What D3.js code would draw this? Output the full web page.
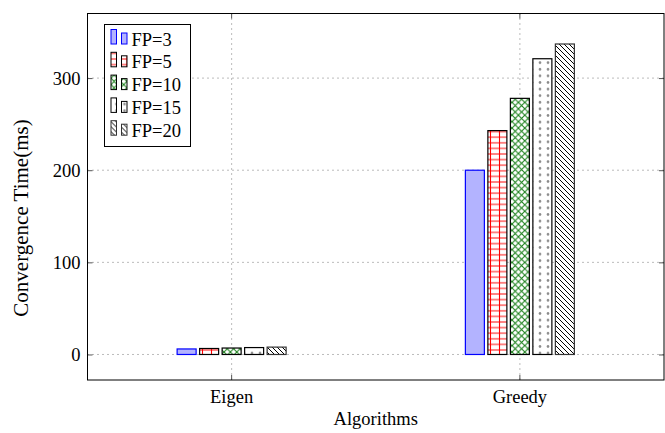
<!DOCTYPE html>
<html>
<head>
<meta charset="utf-8">
<script src="https://cdn.jsdelivr.net/npm/d3@7"></script>
<style>
  body { margin: 0; background: #fff; }
  text { font-family: "Liberation Serif", "Times New Roman", serif; }
</style>
</head>
<body>
<div id="chart"></div>
<script>
// data
let algorithms = ["Eigen", "Greedy"];
let series = ["FP=3", "FP=5", "FP=10", "FP=15", "FP=20"];
let eigenValues = [6, 6.5, 7, 7.5, 8];
let greedyValues = [200, 243, 278, 321, 337];
let yTicks = [0, 100, 200, 300];

let width = 665;
let height = 433;
let fontSize = 18.5;

let svg = d3.select("#chart")
    .append("svg")
    .attr("width", width)
    .attr("height", height);

let defs = svg.append("defs");

// patterns, one per series (pgfplots style hatch fills)
let pGrid = defs.append("pattern")
    .attr("id", "pat-grid")
    .attr("patternUnits", "userSpaceOnUse")
    .attr("width", 9).attr("height", 5.6);
pGrid.append("rect").attr("width", 9).attr("height", 5.6).attr("fill", "white");
pGrid.append("path").attr("d", "M4.5,0V5.6M0,2.8H9")
    .attr("stroke", "red").attr("stroke-width", 1.1);

let pCross = defs.append("pattern")
    .attr("id", "pat-cross")
    .attr("patternUnits", "userSpaceOnUse")
    .attr("width", 6.4).attr("height", 6.4);
pCross.append("rect").attr("width", 6.4).attr("height", 6.4).attr("fill", "white");
pCross.append("path").attr("d", "M0,0L6.4,6.4M6.4,0L0,6.4")
    .attr("stroke", "#1a801a").attr("stroke-width", 1.1);

let pDots = defs.append("pattern")
    .attr("id", "pat-dots")
    .attr("patternUnits", "userSpaceOnUse")
    .attr("width", 8).attr("height", 6.6);
pDots.append("rect").attr("width", 8).attr("height", 6.6).attr("fill", "white");
pDots.append("circle").attr("cx", 4).attr("cy", 3.3).attr("r", 1.3).attr("fill", "#8a8a8a");

let pLines = defs.append("pattern")
    .attr("id", "pat-nwlines")
    .attr("patternUnits", "userSpaceOnUse")
    .attr("width", 5).attr("height", 5);
pLines.append("rect").attr("width", 5).attr("height", 5).attr("fill", "white");
pLines.append("path").attr("d", "M-1,-1L6,6M-1,4L1,6M4,-1L6,1")
    .attr("stroke", "black").attr("stroke-width", 1);

let fills = ["#b3b3ff", "url(#pat-grid)", "url(#pat-cross)", "url(#pat-dots)", "url(#pat-nwlines)"];
let strokes = ["blue", "black", "black", "black", "#333"];

// plot area
let plotLeft = 87.5, plotRight = 664, plotTop = 13.5, plotBottom = 380;

let x = d3.scaleBand().domain(algorithms).range([plotLeft, plotRight]);
let xSub = d3.scaleBand().domain(series)
    .range([-56.25, 56.25])
    .paddingInner(3.5 / 22.5)
    .paddingOuter(3.5 / 45);
let y = d3.scaleLinear().domain([-27.7, 370.1]).range([plotBottom, plotTop]);

// dotted grid
svg.append("g").selectAll("line.gy")
    .data(yTicks)
    .enter().append("line")
    .attr("x1", plotLeft).attr("x2", plotRight)
    .attr("y1", d => y(d)).attr("y2", d => y(d))
    .attr("stroke", "#777").attr("stroke-width", 1)
    .attr("stroke-dasharray", "1,4");

svg.append("g").selectAll("line.gx")
    .data(algorithms)
    .enter().append("line")
    .attr("x1", d => x(d) + x.bandwidth() / 2).attr("x2", d => x(d) + x.bandwidth() / 2)
    .attr("y1", plotTop).attr("y2", plotBottom)
    .attr("stroke", "#777").attr("stroke-width", 1)
    .attr("stroke-dasharray", "1,4");

// bars
let barData = [];
algorithms.forEach((alg, ai) => {
    let vals = ai == 0 ? eigenValues : greedyValues;
    series.forEach((s, si) => {
        barData.push({alg: alg, s: s, si: si, v: vals[si]});
    });
});

svg.append("g").selectAll("rect.bar")
    .data(barData)
    .enter().append("rect")
    .attr("class", "bar")
    .attr("x", d => x(d.alg) + x.bandwidth() / 2 + xSub(d.s))
    .attr("width", xSub.bandwidth())
    .attr("y", d => y(d.v))
    .attr("height", d => y(0) - y(d.v))
    .attr("fill", d => fills[d.si])
    .attr("stroke", d => strokes[d.si])
    .attr("stroke-width", 1.2);

// axes (ticks inside, mirrored)
let yAxisL = d3.axisLeft(y).tickValues(yTicks).tickSize(-5).tickPadding(7);
let gy = svg.append("g").attr("transform", "translate(" + plotLeft + ",0)").call(yAxisL);
gy.select(".domain").remove();
gy.selectAll("text").attr("font-size", fontSize).attr("font-family", "Liberation Serif").attr("fill", "black");
gy.selectAll("line").attr("stroke", "#555");

let yAxisR = d3.axisRight(y).tickValues(yTicks).tickSize(-5).tickFormat("");
let gyr = svg.append("g").attr("transform", "translate(" + plotRight + ",0)").call(yAxisR);
gyr.select(".domain").remove();
gyr.selectAll("line").attr("stroke", "#555");

let xAxisB = d3.axisBottom(x).tickSize(-5).tickPadding(10);
let gx = svg.append("g").attr("transform", "translate(0," + plotBottom + ")").call(xAxisB);
gx.select(".domain").remove();
gx.selectAll("text").attr("font-size", fontSize).attr("font-family", "Liberation Serif").attr("fill", "black");
gx.selectAll("line").attr("stroke", "#555");

let xAxisT = d3.axisTop(x).tickSize(-5).tickFormat("");
let gxt = svg.append("g").attr("transform", "translate(0," + plotTop + ")").call(xAxisT);
gxt.select(".domain").remove();
gxt.selectAll("line").attr("stroke", "#555");

// frame
svg.append("rect")
    .attr("x", plotLeft).attr("y", plotTop)
    .attr("width", plotRight - plotLeft).attr("height", plotBottom - plotTop)
    .attr("fill", "none").attr("stroke", "black").attr("stroke-width", 1);

// axis labels
svg.append("text")
    .attr("x", (plotLeft + plotRight) / 2).attr("y", 425)
    .attr("text-anchor", "middle")
    .attr("font-size", fontSize)
    .text("Algorithms");

svg.append("text")
    .attr("transform", "translate(28," + 218 + ") rotate(-90)")
    .attr("text-anchor", "middle")
    .attr("font-size", 21)
    .text("Convergence Time(ms)");

// legend
let legend = svg.append("g").attr("transform", "translate(104.5,24.5)");
legend.append("rect")
    .attr("width", 86).attr("height", 122)
    .attr("fill", "white").attr("stroke", "black").attr("stroke-width", 1);

let rowH = 22.8;
let entries = legend.selectAll("g.entry")
    .data(series)
    .enter().append("g")
    .attr("class", "entry")
    .attr("transform", (d, i) => "translate(0," + (14.5 + i * rowH) + ")");

// legend image: a tall bar and a short bar
entries.append("rect")
    .attr("x", 6.5).attr("y", -9.5)
    .attr("width", 5.5).attr("height", 14.5)
    .attr("fill", (d, i) => fills[i]).attr("stroke", (d, i) => strokes[i]).attr("stroke-width", 1);
entries.append("rect")
    .attr("x", 17).attr("y", -6)
    .attr("width", 5.5).attr("height", 11)
    .attr("fill", (d, i) => fills[i]).attr("stroke", (d, i) => strokes[i]).attr("stroke-width", 1);
entries.append("text")
    .attr("x", 27).attr("y", 6.5)
    .attr("font-size", fontSize)
    .text(d => d);
</script>
</body>
</html>
